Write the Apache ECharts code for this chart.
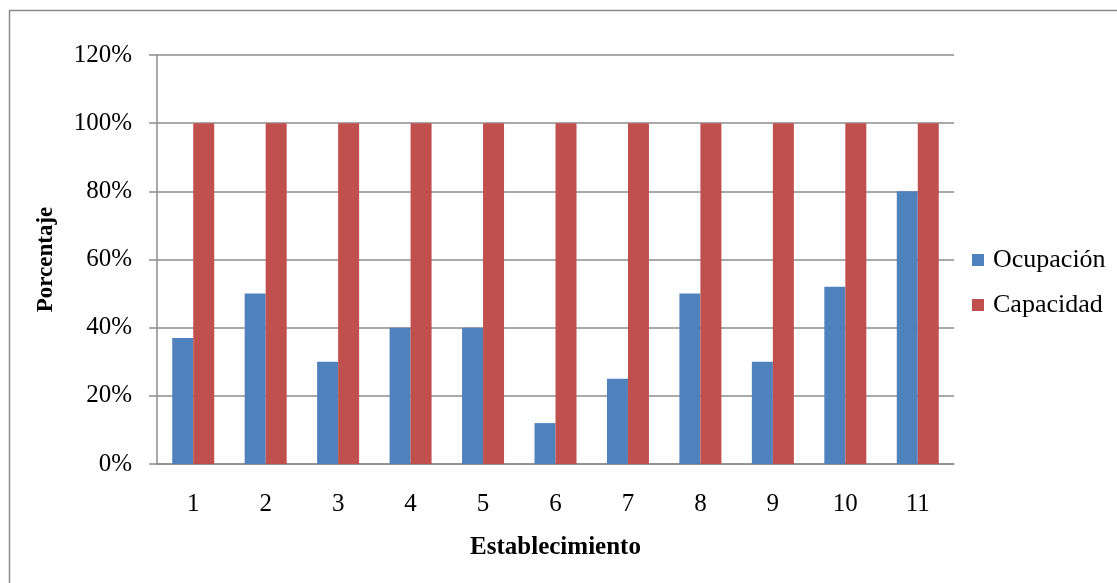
<!DOCTYPE html>
<html>
<head>
<meta charset="utf-8">
<script src="https://cdn.jsdelivr.net/npm/echarts@6/dist/echarts.min.js"></script>
<style>
  html, body { margin: 0; padding: 0; background: #fff; }
  #chart { width: 1117px; height: 583px; }
</style>
</head>
<body>
<div id="chart"></div>
<script>
// Establishments and their occupancy versus capacity (percent)
const establecimientos = ['1', '2', '3', '4', '5', '6', '7', '8', '9', '10', '11'];
const ocupacion = [37, 50, 30, 40, 40, 12, 25, 50, 30, 52, 80];
const capacidad = [100, 100, 100, 100, 100, 100, 100, 100, 100, 100, 100];
const seriesNames = ['Ocupación', 'Capacidad'];

const serif = '"Liberation Serif", "Times New Roman", serif';
const gridColor = '#8c8c8c';

const chart = echarts.init(document.getElementById('chart'), null, { renderer: 'canvas' });
chart.setOption({
  animation: false,
  backgroundColor: '#ffffff',
  color: ['#4F81BD', '#C0504D'],
  graphic: [{
    type: 'rect',
    shape: { x: 9.5, y: 10.5, width: 1200, height: 700 },
    style: { fill: 'none', stroke: '#8a8a8a', lineWidth: 1.5 },
    silent: true
  }],
  grid: { left: 157, right: 163, top: 55, bottom: 119, containLabel: false },
  legend: {
    orient: 'vertical',
    left: 972,
    top: 247,
    padding: 0,
    itemWidth: 12,
    itemHeight: 12,
    itemGap: 19,
    icon: 'rect',
    textStyle: { fontFamily: serif, fontSize: 26, color: '#000', padding: [0, 0, 0, 4] },
    data: seriesNames
  },
  xAxis: {
    type: 'category',
    data: establecimientos,
    name: 'Establecimiento',
    nameLocation: 'middle',
    nameGap: 71,
    nameTextStyle: { fontFamily: serif, fontSize: 25, fontWeight: 'bold', color: '#000' },
    axisLine: { lineStyle: { color: gridColor, width: 1.5 } },
    axisTick: { show: false },
    axisLabel: { fontFamily: serif, fontSize: 25, color: '#000', margin: 28 }
  },
  yAxis: {
    type: 'value',
    min: 0,
    max: 120,
    interval: 20,
    name: 'Porcentaje',
    nameLocation: 'middle',
    nameGap: 99,
    nameRotate: 90,
    nameTextStyle: { fontFamily: serif, fontSize: 23, fontWeight: 'bold', color: '#000' },
    axisLine: { show: true, lineStyle: { color: gridColor, width: 1.5 } },
    axisTick: { show: true, length: 8, lineStyle: { color: gridColor, width: 1.5 } },
    splitLine: { lineStyle: { color: gridColor, width: 1.5 } },
    axisLabel: {
      fontFamily: serif, fontSize: 25, color: '#000', margin: 25,
      formatter: v => v + '%'
    }
  },
  series: [
    { name: seriesNames[0], type: 'bar', data: ocupacion, barWidth: 21, barGap: '0%' },
    { name: seriesNames[1], type: 'bar', data: capacidad, barWidth: 21, barGap: '0%' }
  ]
});
</script>
</body>
</html>
